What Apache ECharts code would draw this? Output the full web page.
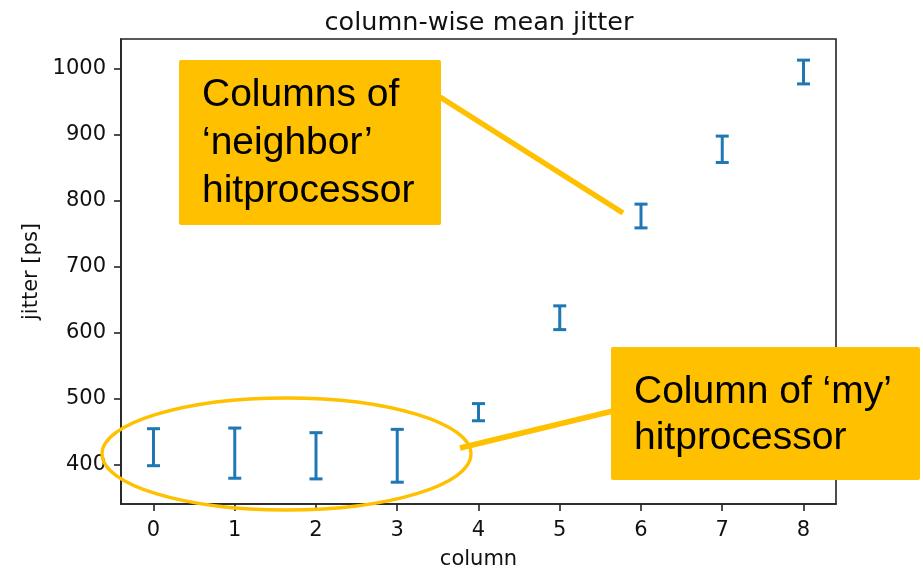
<!DOCTYPE html>
<html>
<head>
<meta charset="utf-8">
<style>
  html, body { margin: 0; padding: 0; background: #fff; }
  #chart { width: 923px; height: 570px; }
</style>
<script src="https://cdn.jsdelivr.net/npm/echarts@6/dist/echarts.min.js"></script>
</head>
<body>
<div id="chart"></div>
<script>
// Column index, mean jitter per column and its error (half-width), in ps
const columns = [0, 1, 2, 3, 4, 5, 6, 7, 8];
const meanJitter = [427, 418, 414, 414, 480, 623, 777, 878, 995];
const jitterErr = [28, 38, 35, 40, 13, 18, 18, 20, 18];

// Axis ticks
const xTicks = [0, 1, 2, 3, 4, 5, 6, 7, 8];
const yTicks = [400, 500, 600, 700, 800, 900, 1000];

// Callout texts
const neighborLines = ['Columns of', '\u2018neighbor\u2019', 'hitprocessor'];
const myLines = ['Column of \u2018my\u2019', 'hitprocessor'];

const BLUE = '#1f77b4';
const ORANGE = '#FFC000';
const TICK_FONT = 'DejaVu Sans';
const NOTE_FONT = 'Liberation Sans';

const chart = echarts.init(document.getElementById('chart'), null, { renderer: 'canvas' });

const errData = columns.map((c, i) => [c, meanJitter[i], jitterErr[i]]);

function renderErrorBar(params, api) {
  const x = api.value(0), m = api.value(1), e = api.value(2);
  const top = api.coord([x, m + e]);
  const bot = api.coord([x, m - e]);
  const half = 6.5;
  const st = { stroke: BLUE, lineWidth: 3 };
  return {
    type: 'group',
    children: [
      { type: 'line', shape: { x1: top[0], y1: top[1], x2: bot[0], y2: bot[1] }, style: st },
      { type: 'line', shape: { x1: top[0] - half, y1: top[1], x2: top[0] + half, y2: top[1] }, style: st },
      { type: 'line', shape: { x1: bot[0] - half, y1: bot[1], x2: bot[0] + half, y2: bot[1] }, style: st }
    ]
  };
}

function noteText(lines, x, y0, step) {
  return lines.map((t, i) => ({
    type: 'text', z: 101, x: x, y: y0 + i * step,
    style: { text: t, fill: '#000', font: '39px "' + NOTE_FONT + '"', verticalAlign: 'middle', align: 'left' }
  }));
}

const axisLineStyle = { color: '#222', width: 1.6 };
const plainNumber = v => String(v);

const option = {
  animation: false,
  backgroundColor: '#fff',
  title: {
    text: 'column-wise mean jitter',
    left: 474, top: 5, textAlign: 'center',
    textStyle: { fontFamily: TICK_FONT, fontSize: 25.5, fontWeight: 'normal', color: '#111' }
  },
  grid: {
    left: 121, right: 87, top: 39, bottom: 66,
    outerBoundsMode: 'none', containLabel: false,
    show: true, borderColor: '#222', borderWidth: 1.6, backgroundColor: 'transparent'
  },
  xAxis: {
    type: 'value', min: -0.4, max: 8.4,
    name: 'column', nameLocation: 'middle', nameGap: 45,
    nameTextStyle: { fontFamily: TICK_FONT, fontSize: 21, color: '#111' },
    axisLine: { show: true, onZero: false, lineStyle: axisLineStyle },
    axisTick: { show: true, length: 7, lineStyle: axisLineStyle, customValues: xTicks },
    axisLabel: { fontFamily: TICK_FONT, fontSize: 21, color: '#111', margin: 16, customValues: xTicks, formatter: plainNumber },
    splitLine: { show: false }
  },
  yAxis: {
    type: 'value', min: 341, max: 1045,
    name: 'jitter [ps]', nameLocation: 'middle', nameGap: 79,
    nameTextStyle: { fontFamily: TICK_FONT, fontSize: 21, color: '#111' },
    axisLine: { show: true, onZero: false, lineStyle: axisLineStyle },
    axisTick: { show: true, length: 7, lineStyle: axisLineStyle, customValues: yTicks },
    axisLabel: { fontFamily: TICK_FONT, fontSize: 21, color: '#111', margin: 15, customValues: yTicks, formatter: plainNumber },
    splitLine: { show: false }
  },
  series: [{
    type: 'custom',
    renderItem: renderErrorBar,
    data: errData,
    z: 3
  }],
  graphic: [
    // neighbor callout
    { type: 'line', z: 99, shape: { x1: 440, y1: 97, x2: 623, y2: 213 }, style: { stroke: ORANGE, lineWidth: 5.5 } },
    { type: 'rect', z: 100, shape: { x: 179, y: 60, width: 262, height: 165, r: 2 }, style: { fill: ORANGE } },
    ...noteText(neighborLines, 202, 95, 48.3),
    // my-column callout
    { type: 'ellipse', z: 99, shape: { cx: 286.5, cy: 454, rx: 184.5, ry: 56 }, style: { fill: null, stroke: ORANGE, lineWidth: 3.3 } },
    { type: 'line', z: 99, shape: { x1: 460, y1: 448, x2: 613, y2: 411 }, style: { stroke: ORANGE, lineWidth: 5.5 } },
    { type: 'rect', z: 100, shape: { x: 611, y: 347, width: 309, height: 133, r: 2 }, style: { fill: ORANGE } },
    ...noteText(myLines, 634, 392, 46)
  ]
};

chart.setOption(option);
</script>
</body>
</html>
